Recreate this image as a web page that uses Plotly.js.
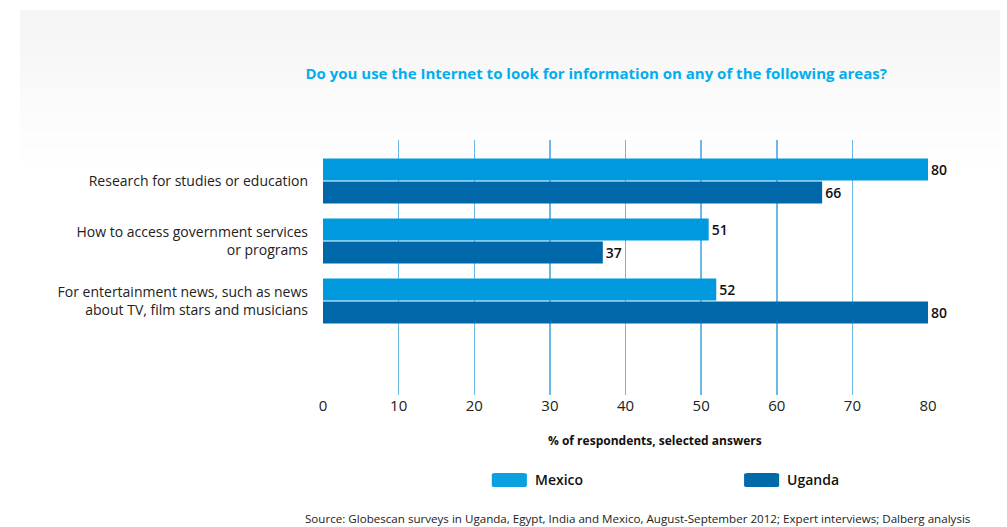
<!DOCTYPE html>
<html>
<head>
<meta charset="utf-8">
<script src="https://cdn.plot.ly/plotly-3.0.1.min.js"></script>
<style>html,body{margin:0;padding:0;background:#fff;}#chart{width:1007px;height:527px;}</style>
</head>
<body>
<div id="chart"></div>
<script>
const categories = [
  "Research for studies or education",
  "How to access government services<br>or programs",
  "For entertainment news, such as news<br>about TV, film stars and musicians"
];
const mexicoValues = [80, 51, 52];
const ugandaValues = [66, 37, 80];
const seriesNames = ["Mexico", "Uganda"];
const xTicks = [0, 10, 20, 30, 40, 50, 60, 70, 80];

const F = "Open Sans, sans-serif";
const labelFont = {family: F, size: 14, color: "#111", weight: 600};

const traces = [
  {type: "bar", orientation: "h", name: seriesNames[0], y: categories, x: mexicoValues,
   marker: {color: "#0099dd"}, text: mexicoValues.map(String), textposition: "outside",
   textfont: labelFont, cliponaxis: false, hoverinfo: "x+name"},
  {type: "bar", orientation: "h", name: seriesNames[1], y: categories, x: ugandaValues,
   marker: {color: "#0068a8"}, text: ugandaValues.map(String), textposition: "outside",
   textfont: labelFont, cliponaxis: false, hoverinfo: "x+name"}
];

function roundRect(x0, x1, y0, y1, r) {
  return `M${x0+r},${y0} L${x1-r},${y0} Q${x1},${y0} ${x1},${y0+r} L${x1},${y1-r} Q${x1},${y1} ${x1-r},${y1} L${x0+r},${y1} Q${x0},${y1} ${x0},${y1-r} L${x0},${y0+r} Q${x0},${y0} ${x0+r},${y0} Z`;
}

const bandBottoms = [1.45, 1.39, 1.33, 1.27, 1.21, 1.15, 1.09, 1.03, 0.97, 0.91];
const bgBands = bandBottoms.map(y0 => ({
  type: "rect", xref: "paper", yref: "paper", x0: -0.501, x1: 1.119, y0: y0, y1: 1.51,
  line: {width: 0}, fillcolor: "rgba(236,240,245,0.07)", layer: "below"
}));

const layout = {
  width: 1007, height: 527,
  margin: {l: 323, r: 79, t: 140, b: 132},
  paper_bgcolor: "#ffffff", plot_bgcolor: "rgba(0,0,0,0)",
  showlegend: false,
  barmode: "group", bargap: 0.233, bargroupgap: 0.045,
  title: {text: "Do you use the Internet to look for information on any of the following areas?",
          font: {family: F, size: 15, color: "#00aeef", weight: 700},
          x: 0.592, xanchor: "center", y: 0.86, yanchor: "middle"},
  xaxis: {range: [0, 80], tickvals: xTicks, ticktext: xTicks.map(String),
          showgrid: true, gridcolor: "#6cb9e6", gridwidth: 1.5, zeroline: false,
          showline: false, ticks: "", ticklen: 0,
          tickfont: {family: F, size: 15, color: "#222"}},
  yaxis: {type: "category", range: [3.567, -0.683], showgrid: false, zeroline: false,
          showline: false, ticks: "", ticklabelstandoff: 14,
          tickfont: {family: F, size: 14, color: "#222"}},
  shapes: bgBands.concat([
    {type: "path", xref: "paper", yref: "paper", path: roundRect(0.279, 0.337, -0.361, -0.306, 0.006),
     line: {width: 0}, fillcolor: "#0aa0e0"},
    {type: "path", xref: "paper", yref: "paper", path: roundRect(0.696, 0.754, -0.361, -0.306, 0.006),
     line: {width: 0}, fillcolor: "#006aaa"}
  ]),
  annotations: [
    {text: "% of respondents, selected answers", xref: "paper", yref: "paper", x: 0.549, y: -0.18,
     xanchor: "center", yanchor: "middle", showarrow: false,
     font: {family: F, size: 12, color: "#111", weight: 700}},
    {text: "Mexico", xref: "paper", yref: "paper", x: 0.347, y: -0.333, xanchor: "left", yanchor: "middle",
     showarrow: false, font: {family: F, size: 14, color: "#111", weight: 600}},
    {text: "Uganda", xref: "paper", yref: "paper", x: 0.764, y: -0.333, xanchor: "left", yanchor: "middle",
     showarrow: false, font: {family: F, size: 14, color: "#111", weight: 600}},
    {text: "Source: Globescan surveys in Uganda, Egypt, India and Mexico, August-September 2012; Expert interviews; Dalberg analysis",
     xref: "paper", yref: "paper", x: 1.073, y: -0.486, xanchor: "right", yanchor: "middle",
     showarrow: false, font: {family: F, size: 11.6, color: "#222"}}
  ]
};

Plotly.newPlot("chart", traces, layout, {displayModeBar: false, staticPlot: true});
</script>
</body>
</html>
